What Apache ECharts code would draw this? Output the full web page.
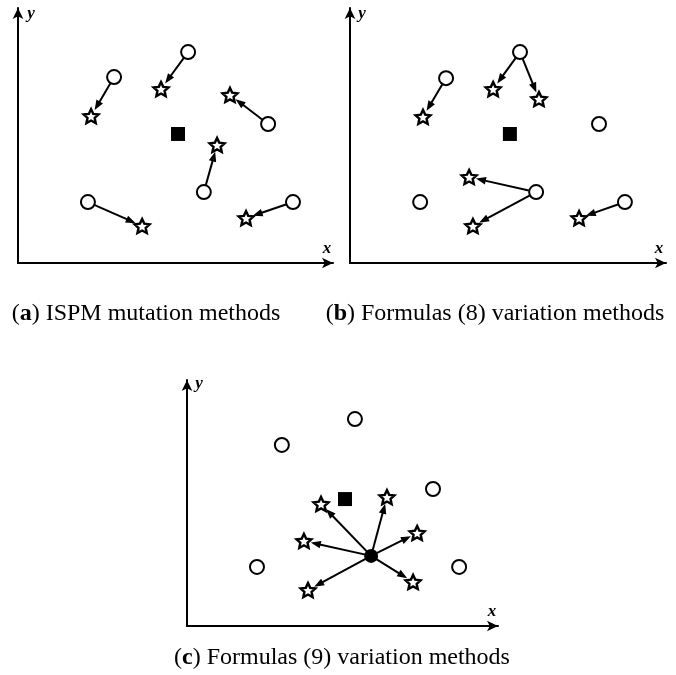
<!DOCTYPE html>
<html>
<head>
<meta charset="utf-8">
<script src="https://cdn.jsdelivr.net/npm/echarts@6/dist/echarts.min.js"></script>
<style>html,body{margin:0;padding:0;background:#fff;}#c{width:676px;height:675px;}</style>
</head>
<body>
<div id="c"></div>
<script>
// ---- data (axis units 0..100 in every panel) ----
const circlesA = [[54.0,82.7],[30.5,72.9],[79.4,54.5],[59.0,27.8],[22.2,23.9],[87.3,23.9]];
const starsA   = [[45.4,68.2],[23.2,57.6],[67.3,65.9],[63.2,46.3],[39.4,14.5],[72.4,17.6]];
const bestA    = [[50.8,50.6]];
const arrowsA  = [[0,0],[1,1],[2,2],[3,3],[4,4],[5,5]];   // circle index -> star index

const circlesB = [[53.8,82.7],[30.4,72.5],[78.8,54.5],[58.9,27.8],[22.2,23.9],[87.0,23.9]];
const starsB   = [[45.3,68.2],[59.8,64.3],[23.1,57.3],[37.7,33.7],[38.9,14.5],[72.5,17.6]];
const bestB    = [[50.6,50.6]];
const arrowsB  = [[0,0],[0,1],[1,2],[3,3],[3,4],[5,5]];

const circlesC = [[54.0,84.1],[30.5,73.6],[79.1,55.7],[22.5,24.0],[87.5,24.0]];
const meanC    = [[59.2,28.5]];
const starsC   = [[64.3,52.4],[43.1,49.6],[74.0,37.8],[37.6,34.6],[38.9,14.6],[72.7,17.9]];
const bestC    = [[50.8,51.6]];
const arrowsC  = [[0,0],[0,1],[0,2],[0,3],[0,4],[0,5]];   // mean index -> star index

const captions = ['ISPM mutation methods','Formulas (8) variation methods','Formulas (9) variation methods'];
const captionLetters = ['a','b','c'];
const axisNames = ['x','y'];

// ---- drawing ----
const FONT = '"Liberation Serif","Times New Roman",serif';
function starPath(){
  const pts=[];
  for(let i=0;i<10;i++){
    const r = i%2 ? 0.48 : 1;
    const a = -Math.PI/2 + i*Math.PI/5;
    pts.push((r*Math.cos(a)).toFixed(4)+','+(r*Math.sin(a)).toFixed(4));
  }
  return 'path://M'+pts.join('L')+'Z';
}
const STAR = starPath();

const grids = [
  {left:18,  top:8,   width:315, height:255},
  {left:350, top:8,   width:316, height:255},
  {left:187, top:380, width:311, height:246}
];

function axis(i){
  return {
    type:'value', min:0, max:100, gridIndex:i,
    axisLine:{show:true, onZero:false, symbol:['none','arrow'], symbolSize:[8,11], symbolOffset:[0,0],
              lineStyle:{color:'#000', width:2}},
    axisTick:{show:false}, axisLabel:{show:false}, splitLine:{show:false}
  };
}

function arrowSeries(i, from, to, pairs, r1, r2){
  return {
    type:'custom', xAxisIndex:i, yAxisIndex:i, z:2, silent:true,
    data: pairs.map(([a,b]) => [from[a][0],from[a][1],to[b][0],to[b][1]]),
    renderItem(params, api){
      const p1 = api.coord([api.value(0), api.value(1)]);
      const p2 = api.coord([api.value(2), api.value(3)]);
      const dx = p2[0]-p1[0], dy = p2[1]-p1[1];
      const L = Math.hypot(dx,dy), ux = dx/L, uy = dy/L;
      const s = [p1[0]+ux*r1, p1[1]+uy*r1];
      const e = [p2[0]-ux*r2, p2[1]-uy*r2];
      const hl = 10, hw = 3.8;
      const b = [e[0]-ux*hl, e[1]-uy*hl];
      return {type:'group', children:[
        {type:'line', shape:{x1:s[0],y1:s[1],x2:b[0]+ux*2,y2:b[1]+uy*2}, style:{stroke:'#000', lineWidth:2}},
        {type:'polygon', shape:{points:[e,[b[0]-uy*hw,b[1]+ux*hw],[b[0]+uy*hw,b[1]-ux*hw]]}, style:{fill:'#000'}}
      ]};
    }
  };
}

function circleSeries(i, data){
  return {type:'scatter', xAxisIndex:i, yAxisIndex:i, z:3, data, symbol:'circle', symbolSize:14,
          itemStyle:{color:'#fff', borderColor:'#000', borderWidth:2, opacity:1}, silent:true};
}
function starSeries(i, data){
  return {type:'scatter', xAxisIndex:i, yAxisIndex:i, z:3, data, symbol:STAR, symbolSize:[15,14],
          itemStyle:{color:'#fff', borderColor:'#000', borderWidth:2.4, opacity:1}, silent:true};
}
function squareSeries(i, data){
  return {type:'scatter', xAxisIndex:i, yAxisIndex:i, z:3, data, symbol:'rect', symbolSize:14,
          itemStyle:{color:'#000', opacity:1}, silent:true};
}

const series = [
  arrowSeries(0, circlesA, starsA, arrowsA, 7.5, 7),
  circleSeries(0, circlesA), starSeries(0, starsA), squareSeries(0, bestA),
  arrowSeries(1, circlesB, starsB, arrowsB, 7.5, 7),
  circleSeries(1, circlesB), starSeries(1, starsB), squareSeries(1, bestB),
  arrowSeries(2, meanC, starsC, arrowsC, 0, 7),
  circleSeries(2, circlesC), starSeries(2, starsC), squareSeries(2, bestC),
  {type:'scatter', xAxisIndex:2, yAxisIndex:2, z:4, data:meanC, symbol:'circle', symbolSize:14,
   itemStyle:{color:'#000', opacity:1}, silent:true}
];

const namePos = [
  {x:[327,249], y:[31,14]},
  {x:[659,249], y:[362,14]},
  {x:[492,612], y:[199,384]}
];
const capPos = [[146,314],[495,314],[342,658]];

const graphic = [];
namePos.forEach(p => {
  graphic.push({type:'text', x:p.x[0], y:p.x[1], style:{text:axisNames[0], font:'italic bold 17px '+FONT, fill:'#000', align:'center', verticalAlign:'middle'}});
  graphic.push({type:'text', x:p.y[0], y:p.y[1], style:{text:axisNames[1], font:'italic bold 17px '+FONT, fill:'#000', align:'center', verticalAlign:'middle'}});
});
capPos.forEach((p,i) => {
  graphic.push({type:'text', x:p[0], y:p[1], style:{
    text:'({b|'+captionLetters[i]+'}) '+captions[i],
    fontFamily:FONT, fontSize:24, fill:'#000', align:'center', verticalAlign:'middle',
    rich:{b:{fontFamily:FONT, fontSize:24, fontWeight:'bold', fill:'#000'}}
  }});
});

const chart = echarts.init(document.getElementById('c'), null, {renderer:'canvas'});
chart.setOption({
  animation:false,
  backgroundColor:'#fff',
  grid: grids,
  xAxis: [axis(0), axis(1), axis(2)],
  yAxis: [axis(0), axis(1), axis(2)],
  series,
  graphic
});
</script>
</body>
</html>
